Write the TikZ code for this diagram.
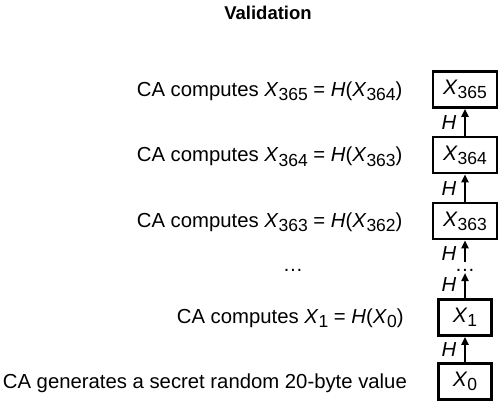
\documentclass[tikz,border=0pt]{standalone}
\usepackage{fontspec}
\setmainfont{Liberation Sans}
\usetikzlibrary{arrows.meta}
\newcommand{\Xv}[1]{\textit{X}\raisebox{-0.38ex}{\fontsize{17.5}{18}\selectfont #1}}
\newcommand{\Hf}{\textit{H}}
\begin{document}
\begin{tikzpicture}[x=1pt,y=-1pt,
  txt/.style={font=\fontsize{20.3}{24}\selectfont, inner sep=0pt, anchor=base west},
  vbox/.style={draw, line width=2.7pt, minimum height=36pt, inner sep=0pt, font=\fontsize{21}{24}\selectfont},
  wide/.style={vbox, minimum width=64pt},
  narrow/.style={vbox, minimum width=53pt},
  harr/.style={-{Triangle[length=8pt,width=7pt]}, line width=2.4pt},
  hlab/.style={font=\fontsize{20.3}{24}\selectfont\itshape, inner sep=0pt}]
\useasboundingbox (0,0) rectangle (500,403);
\node[font=\fontsize{18.5}{22}\selectfont\bfseries, inner sep=0pt, anchor=base] (title) at (268,20) {Validation};
\node[wide] (b365) at (465,89.5) {\Xv{365}};
\node[wide] (b364) at (465,155) {\Xv{364}};
\node[wide] (b363) at (465,221) {\Xv{363}};
\node[narrow] (b1) at (465,317.5) {\Xv{1}};
\node[narrow] (b0) at (465,381.5) {\Xv{0}};
\node[txt] (t365) at (136.7,96.5) {CA computes \Xv{365} = \Hf(\Xv{364})};
\node[txt] (t364) at (136.7,162) {CA computes \Xv{364} = \Hf(\Xv{363})};
\node[txt] (t363) at (136.7,227.5) {CA computes \Xv{363} = \Hf(\Xv{362})};
\node[font=\fontsize{20.3}{24}\selectfont, inner sep=0pt, anchor=base] (tdots) at (293,271) {\dots};
\node[txt] (t1) at (176.7,323) {CA computes \Xv{1} = \Hf(\Xv{0})};
\node[txt] (t0) at (2.7,388) {CA generates a secret random 20-byte value};
\coordinate (d1) at (465,262);
\coordinate (d2) at (465,273);
\node[font=\fontsize{20.3}{24}\selectfont, inner sep=0pt, anchor=base] (vdots) at (465,271) {\dots};
\draw[harr] (b364.north) -- (b365.south);
\draw[harr] (b363.north) -- (b364.south);
\draw[harr] (d1) -- (b363.south);
\draw[harr] (b1.north) -- (d2);
\draw[harr] (b0.north) -- (b1.south);
\node[hlab] (h1) at (449,122.5) {H};
\node[hlab] (h2) at (449,188.5) {H};
\node[hlab] (h3) at (449,254) {H};
\node[hlab] (h4) at (449,285) {H};
\node[hlab] (h5) at (449,350) {H};
\end{tikzpicture}
\end{document}
